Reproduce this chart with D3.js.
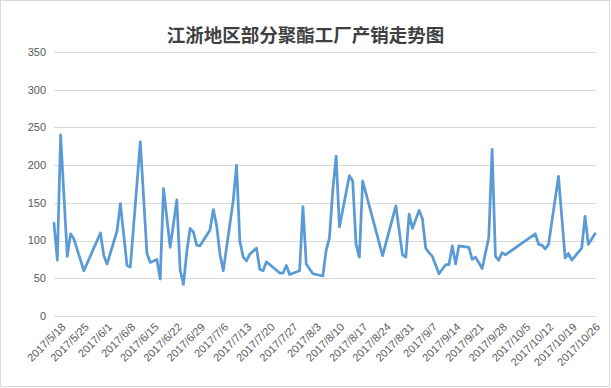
<!DOCTYPE html>
<html>
<head>
<meta charset="utf-8">
<script src="https://cdn.jsdelivr.net/npm/d3@7"></script>
<style>
  html, body { margin: 0; padding: 0; background: #fff; }
  svg { display: block; }
</style>
</head>
<body>
<div id="chart"></div>
<script>
const title = '江浙地区部分聚酯工厂产销走势图';

// dates of the readings and the production/sales ratio (%)
const dates = [
  '2017-05-16', '2017-05-17', '2017-05-18', '2017-05-20', '2017-05-21', '2017-05-22',
  '2017-05-25', '2017-05-30', '2017-05-31', '2017-06-01', '2017-06-04', '2017-06-05',
  '2017-06-07', '2017-06-08', '2017-06-11', '2017-06-13', '2017-06-14', '2017-06-16',
  '2017-06-17', '2017-06-18', '2017-06-20', '2017-06-22', '2017-06-23', '2017-06-24',
  '2017-06-25', '2017-06-26', '2017-06-27', '2017-06-28', '2017-06-29', '2017-07-02',
  '2017-07-03', '2017-07-04', '2017-07-05', '2017-07-06', '2017-07-09', '2017-07-10',
  '2017-07-11', '2017-07-12', '2017-07-13', '2017-07-14', '2017-07-16', '2017-07-17',
  '2017-07-18', '2017-07-19', '2017-07-23', '2017-07-24', '2017-07-25', '2017-07-26',
  '2017-07-29', '2017-07-30', '2017-07-31', '2017-08-02', '2017-08-05', '2017-08-06',
  '2017-08-07', '2017-08-08', '2017-08-09', '2017-08-10', '2017-08-13', '2017-08-14',
  '2017-08-15', '2017-08-16', '2017-08-17', '2017-08-23', '2017-08-27', '2017-08-29',
  '2017-08-30', '2017-08-31', '2017-09-01', '2017-09-03', '2017-09-04', '2017-09-05',
  '2017-09-06', '2017-09-07', '2017-09-09', '2017-09-11', '2017-09-12', '2017-09-13',
  '2017-09-14', '2017-09-15', '2017-09-18', '2017-09-19', '2017-09-20', '2017-09-22',
  '2017-09-24', '2017-09-25', '2017-09-26', '2017-09-27', '2017-09-28', '2017-09-29',
  '2017-10-08', '2017-10-09', '2017-10-10', '2017-10-11', '2017-10-12', '2017-10-15',
  '2017-10-17', '2017-10-18', '2017-10-19', '2017-10-22', '2017-10-23', '2017-10-24',
  '2017-10-26'
];
const values = [
  123, 74, 240, 79, 109, 102,
  60, 110, 80, 69, 113, 149,
  67, 65, 231, 83, 71, 75,
  49, 169, 91, 154, 61, 42,
  85, 116, 111, 94, 93, 114,
  141, 120, 82, 60, 153, 200,
  99, 78, 73, 82, 90, 62,
  60, 72, 57, 57, 67, 55,
  60, 145, 69, 56, 53, 87,
  104, 167, 212, 118, 186, 179,
  95, 78, 179, 80, 146, 81,
  78, 135, 116, 140, 129, 90,
  84, 79, 56, 68, 68, 93,
  69, 93, 91, 75, 78, 63,
  104, 221, 79, 74, 84, 81,
  109, 95, 94, 89, 95, 185,
  77, 83, 74, 90, 132, 95,
  109
];

const yTicks = [0, 50, 100, 150, 200, 250, 300, 350];
const xTickLabels = [
  '2017/5/18', '2017/5/25', '2017/6/1', '2017/6/8', '2017/6/15', '2017/6/22',
  '2017/6/29', '2017/7/6', '2017/7/13', '2017/7/20', '2017/7/27', '2017/8/3',
  '2017/8/10', '2017/8/17', '2017/8/24', '2017/8/31', '2017/9/7', '2017/9/14',
  '2017/9/21', '2017/9/28', '2017/10/5', '2017/10/12', '2017/10/19', '2017/10/26'
];

const width = 611;
const height = 388;
const margin = { top: 52, right: 16, bottom: 72, left: 54 };

const parseIso = d3.timeParse('%Y-%m-%d');
const parseLabel = d3.timeParse('%Y/%m/%d');
const points = dates.map((d, i) => ({ date: parseIso(d), value: values[i] }));

const svg = d3.select('#chart')
  .append('svg')
  .attr('width', width)
  .attr('height', height);

// chart frame
svg.append('rect')
  .attr('x', 0.5)
  .attr('y', 0.5)
  .attr('width', width - 2)
  .attr('height', height - 2)
  .attr('fill', '#fff')
  .attr('stroke', '#d9d9d9');

const x = d3.scaleTime()
  .domain(d3.extent(points, d => d.date))
  .range([margin.left, width - margin.right]);

const y = d3.scaleLinear()
  .domain([0, 350])
  .range([height - margin.bottom, margin.top]);

// horizontal gridlines
svg.append('g')
  .selectAll('line')
  .data(yTicks)
  .join('line')
  .attr('x1', margin.left)
  .attr('x2', width - margin.right + 1)
  .attr('y1', d => Math.round(y(d)) + 0.5)
  .attr('y2', d => Math.round(y(d)) + 0.5)
  .attr('stroke', '#d9d9d9')
  .attr('stroke-width', 1);

// y tick labels
svg.append('g')
  .selectAll('text')
  .data(yTicks)
  .join('text')
  .attr('x', margin.left - 8)
  .attr('y', d => y(d))
  .attr('dy', '0.35em')
  .attr('text-anchor', 'end')
  .attr('font-family', 'Liberation Sans, Arial, sans-serif')
  .attr('font-size', 11)
  .attr('fill', '#595959')
  .text(d => d);

// x tick labels, rotated
svg.append('g')
  .selectAll('text')
  .data(xTickLabels)
  .join('text')
  .attr('transform', d => `translate(${x(parseLabel(d)) + 3},${height - margin.bottom + 9}) rotate(-45)`)
  .attr('dy', '0.35em')
  .attr('text-anchor', 'end')
  .attr('font-family', 'Liberation Sans, Arial, sans-serif')
  .attr('font-size', 11)
  .attr('fill', '#595959')
  .text(d => d);

// the series
const line = d3.line()
  .x(d => x(d.date))
  .y(d => y(d.value));

svg.append('path')
  .datum(points)
  .attr('d', line)
  .attr('fill', 'none')
  .attr('stroke', '#5b9bd5')
  .attr('stroke-width', 2.75)
  .attr('stroke-linejoin', 'round')
  .attr('stroke-linecap', 'round');

// title
svg.append('text')
  .attr('x', width / 2)
  .attr('y', 36)
  .attr('dy', '0.35em')
  .attr('text-anchor', 'middle')
  .attr('font-family', 'Noto Sans CJK SC, sans-serif')
  .attr('font-size', 18.5)
  .attr('font-weight', 'bold')
  .attr('fill', '#404040')
  .text(title);
</script>
</body>
</html>
